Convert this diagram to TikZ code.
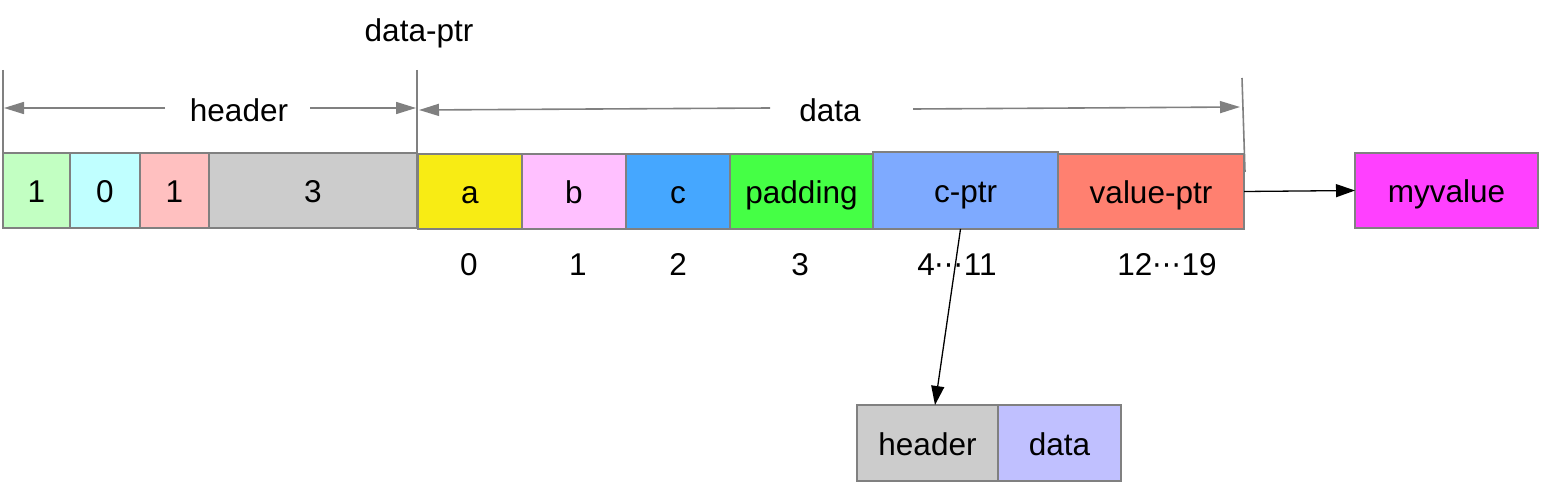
\documentclass[tikz,border=0pt]{standalone}
\usepackage{fontspec}
\setmainfont{Liberation Sans}
\newfontfamily\djv{DejaVu Sans}
\usetikzlibrary{arrows.meta}
\definecolor{bordergray}{HTML}{808080}
\definecolor{cA}{HTML}{C2FFC2}
\definecolor{cB}{HTML}{C0FFFF}
\definecolor{cC}{HTML}{FFC0C0}
\definecolor{cG}{HTML}{CCCCCC}
\definecolor{cY}{HTML}{F8EC14}
\definecolor{cPk}{HTML}{FFC0FF}
\definecolor{cBl}{HTML}{45A7FF}
\definecolor{cGr}{HTML}{45FF45}
\definecolor{cCp}{HTML}{7EAAFF}
\definecolor{cVp}{HTML}{FF8070}
\definecolor{cMv}{HTML}{FF40FF}
\definecolor{cDt}{HTML}{C0C0FF}
\begin{document}
\begin{tikzpicture}[x=1pt,y=-1pt,
  cell/.style={draw=bordergray,line width=1.6pt,inner sep=0pt,outer sep=0pt,minimum height=75pt,font=\fontsize{31.5}{34}\selectfont,text height=31.6pt,text depth=7.2pt},
  lbl/.style={inner sep=0pt,font=\fontsize{31.5}{34}\selectfont},
  dimline/.style={draw=bordergray,line width=1.6pt},
  dimarrow/.style={draw=bordergray,line width=1.6pt,-{Triangle[length=20pt,width=12pt,fill=bordergray]}},
  ptrarrow/.style={draw=black,line width=1.3pt,-{Triangle[length=19pt,width=13pt]}}
]
\useasboundingbox (0,0) rectangle (1544,484);
% header cells
\node[cell,fill=cA,minimum width=67pt] (h1) at (36.5,190.5) {1};
\node[cell,fill=cB,minimum width=70pt] (h2) at (105,190.5) {0};
\node[cell,fill=cC,minimum width=69pt] (h3) at (174.5,190.5) {1};
\node[cell,fill=cG,minimum width=208pt] (h4) at (313,190.5) {3};
% data cells
\node[cell,fill=cY,minimum width=104pt] (a) at (470,191.5) {a};
\node[cell,fill=cPk,minimum width=104pt] (b) at (574,191.5) {b};
\node[cell,fill=cBl,minimum width=104pt] (c) at (678,191.5) {c};
\node[cell,fill=cGr,minimum width=143pt] (pad) at (801.5,191.5) {padding};
\node[cell,fill=cCp,minimum width=185pt,minimum height=77pt] (cptr) at (965.5,190.5) {c-ptr};
\node[cell,fill=cVp,minimum width=186pt] (vptr) at (1151,191.5) {value-ptr};
\node[cell,fill=cMv,minimum width=183pt] (mv) at (1446.5,190.5) {myvalue};
% bottom object
\node[cell,fill=cG,minimum width=141pt,minimum height=76pt] (bh) at (927.5,443) {header};
\node[cell,fill=cDt,minimum width=123pt,minimum height=76pt] (bd) at (1059.5,443) {data};
% labels
\node[lbl] (dptr) at (419,33) {data-ptr};
\node[lbl] (hlab) at (239,110) {header};
\node[lbl] (dlab) at (830,110) {data};
\node[lbl] (i0) at (469,265) {0};
\node[lbl] (i1) at (578,265) {1};
\node[lbl] (i2) at (678,265) {2};
\node[lbl] (i3) at (800,265) {3};
\node[lbl] (i4) at (957,265) {4{\djv\fontsize{29}{32}\selectfont\raisebox{1.5pt}{⋯}}11};
\node[lbl] (i5) at (1167,265) {12{\djv\fontsize{29}{32}\selectfont\raisebox{1.5pt}{⋯}}19};
% dimension markers
\coordinate (t0) at (3,70);
\coordinate (t1) at (417,70);
\coordinate (t2) at (1242,78);
\coordinate (b2) at (1245,172);
\draw[dimline] (t0) -- (h1.north west);
\draw[dimline] (t1) -- (h4.north east);
\draw[dimline] (t2) -- (b2);
\coordinate (ha1) at (165,108);
\coordinate (ha0) at (4,108);
\coordinate (ha2) at (310,108);
\coordinate (ha3) at (416,108);
\draw[dimarrow] (ha1) -- (ha0);
\draw[dimarrow] (ha2) -- (ha3);
\coordinate (da1) at (770,108);
\coordinate (da0) at (419,110);
\coordinate (da2) at (913,109);
\coordinate (da3) at (1240,107);
\draw[dimarrow] (da1) -- (da0);
\draw[dimarrow] (da2) -- (da3);
% pointers
\draw[ptrarrow] (vptr.east) -- (mv.west);
\draw[ptrarrow] ([xshift=-5pt]cptr.south) -- ([xshift=7.5pt]bh.north);
\end{tikzpicture}
\end{document}
